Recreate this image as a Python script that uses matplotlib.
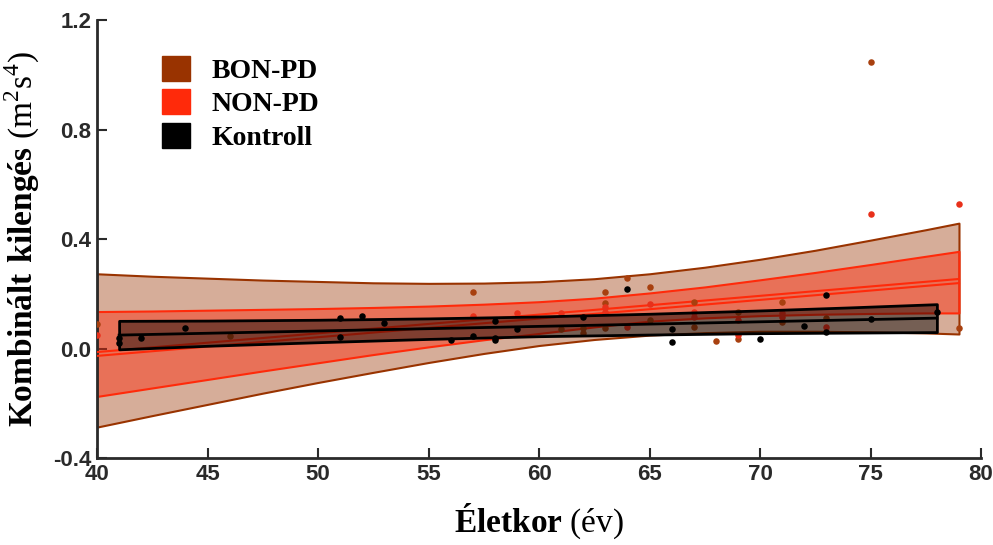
import numpy as np
import matplotlib
matplotlib.use('Agg')
import matplotlib.pyplot as plt
from matplotlib.patches import Patch

# scatter data (age, combined sway)
bon_age = [40, 46, 57, 61, 62, 62, 63, 63, 63, 64, 65, 65, 67, 67, 68, 69, 69, 71, 71, 73, 75, 79]
bon_val = [0.088, 0.046, 0.205, 0.07, 0.074, 0.058, 0.205, 0.167, 0.074, 0.256, 0.226, 0.104,
           0.171, 0.08, 0.028, 0.134, 0.034, 0.171, 0.098, 0.11, 1.048, 0.074]

non_age = [40, 57, 59, 61, 63, 63, 64, 65, 67, 67, 69, 69, 71, 71, 73, 75, 79]
non_val = [0.049, 0.119, 0.129, 0.129, 0.15, 0.134, 0.08, 0.163, 0.134, 0.115, 0.104, 0.051,
           0.129, 0.114, 0.08, 0.49, 0.528]

kon_age = [41, 41, 42, 44, 51, 51, 52, 53, 56, 57, 58, 58, 58, 59, 62, 64, 66, 66, 70, 72, 73, 73, 75, 78]
kon_val = [0.04, 0.02, 0.04, 0.076, 0.113, 0.041, 0.119, 0.094, 0.031, 0.046, 0.10, 0.037, 0.03,
           0.07, 0.114, 0.216, 0.07, 0.025, 0.035, 0.082, 0.195, 0.061, 0.108, 0.134]

# regression lines and confidence bands
band_age = [40, 42.5, 45, 47.5, 50, 52.5, 55, 57.5, 60, 62.5, 65, 67.5, 70, 72.5, 75, 77.5, 79]
bon_hi = [0.273, 0.264, 0.257, 0.250, 0.245, 0.240, 0.238, 0.239, 0.244, 0.255, 0.273, 0.297,
          0.326, 0.359, 0.396, 0.434, 0.458]
bon_lo = [-0.287, -0.245, -0.204, -0.163, -0.124, -0.087, -0.051, -0.018, 0.011, 0.033, 0.049,
          0.058, 0.063, 0.063, 0.061, 0.057, 0.053]
non_hi = [0.135, 0.137, 0.140, 0.143, 0.146, 0.150, 0.155, 0.162, 0.171, 0.184, 0.203, 0.225,
          0.251, 0.278, 0.307, 0.337, 0.355]
non_lo = [-0.175, -0.144, -0.113, -0.082, -0.052, -0.022, 0.006, 0.032, 0.055, 0.079, 0.100,
          0.112, 0.120, 0.125, 0.128, 0.130, 0.130]
fit_age = [40, 79]
bon_fit = [-0.013, 0.254]
non_fit = [-0.027, 0.239]

kon_band_age = [41, 45, 50, 55, 60, 65, 70, 74, 78]
kon_hi = [0.101, 0.102, 0.105, 0.110, 0.117, 0.127, 0.139, 0.150, 0.162]
kon_lo = [-0.003, 0.010, 0.023, 0.035, 0.045, 0.051, 0.056, 0.058, 0.060]
kon_fit_age = [41, 78]
kon_fit = [0.049, 0.111]

BROWN = '#993300'
RED = '#ff2a0a'

plt.rcParams['mathtext.fontset'] = 'custom'
plt.rcParams['mathtext.rm'] = 'Liberation Serif'
plt.rcParams['mathtext.bf'] = 'Liberation Serif:bold'

fig = plt.figure(figsize=(9.93, 5.45), dpi=100)
ax = fig.add_axes([0.0977, 0.1596, 0.8903, 0.8037])

ax.fill_between(band_age, bon_lo, bon_hi, facecolor=(0.6, 0.2, 0.0, 0.4), edgecolor=BROWN, lw=1.5, zorder=1)
ax.fill_between(band_age, non_lo, non_hi, facecolor=(1.0, 0.16, 0.04, 0.45), edgecolor=RED, lw=1.5, zorder=2)
ax.plot(fit_age, bon_fit, color=RED, lw=1.5, zorder=3)
ax.plot(fit_age, non_fit, color=RED, lw=1.5, zorder=3)

ax.scatter(bon_age, bon_val, s=22, color='#a8400f', zorder=4, linewidths=0)
ax.scatter(non_age, non_val, s=22, color='#e8301a', zorder=4, linewidths=0)

ax.fill_between(kon_band_age, kon_lo, kon_hi, facecolor=(0, 0, 0, 0.45), edgecolor='black', lw=2, zorder=5)
ax.plot(kon_fit_age, kon_fit, color='black', lw=2, zorder=6)
ax.scatter(kon_age, kon_val, s=22, color='black', zorder=7, linewidths=0)

ax.set_xlim(40, 80)
ax.set_ylim(-0.4, 1.2)
ax.set_xticks(np.arange(40, 81, 5))
ax.set_yticks([-0.4, 0.0, 0.4, 0.8, 1.2])
ax.set_yticklabels(['-0.4', '0.0', '0.4', '0.8', '1.2'])
for s in ['top', 'right']:
    ax.spines[s].set_visible(False)
for s in ['left', 'bottom']:
    ax.spines[s].set_linewidth(2)
    ax.spines[s].set_color('#2a2a2a')
ax.tick_params(direction='in', length=7, width=1.5, color='#2a2a2a', labelsize=16, pad=4)
for lab in ax.get_xticklabels() + ax.get_yticklabels():
    lab.set_fontfamily('Liberation Sans')
    lab.set_fontweight('bold')
    lab.set_color('#2a2a2a')

ax.set_xlabel(r'$\mathbf{Életkor}$ (év)', fontsize=24, family='Liberation Serif', labelpad=12)
ax.set_ylabel(r'$\mathbf{Kombinált\ kilengés}$ (m$^2$s$^4$)', fontsize=24, family='Liberation Serif', labelpad=8)

handles = [Patch(color=BROWN), Patch(color=RED), Patch(color='black')]
ax.legend(handles, ['BON-PD', 'NON-PD', 'Kontroll'], loc='upper left', bbox_to_anchor=(0.045, 0.975),
          frameon=False, prop={'family': 'Liberation Serif', 'weight': 'bold', 'size': 20},
          handlelength=1.0, handleheight=1.0, handletextpad=0.8, labelspacing=0.2)

fig.savefig('out.png', dpi=100)
